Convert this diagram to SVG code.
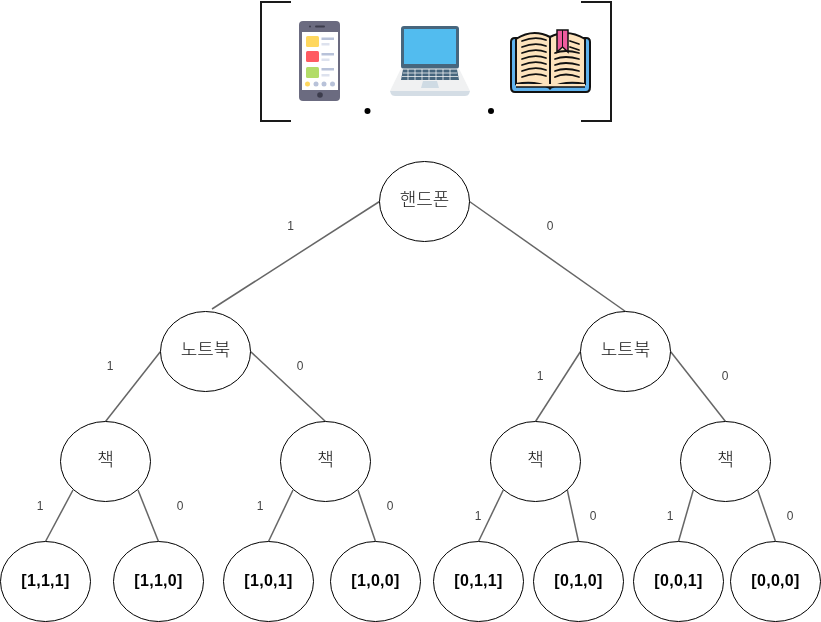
<svg xmlns="http://www.w3.org/2000/svg" width="821" height="622" viewBox="0 0 821 622">
<defs><filter id="g" x="-30%" y="-30%" width="160%" height="160%" color-interpolation-filters="sRGB"><feOffset dx="0" dy="0"/></filter></defs>
<style>
.n{fill:#fff;stroke:#000;stroke-width:1}
text{text-anchor:middle;filter:url(#g)}
.t{font-family:"Noto Sans CJK KR","Liberation Sans",sans-serif;font-size:18px;font-weight:300;fill:#111}
.b{font-family:"Liberation Sans",Arial,sans-serif;font-size:16px;font-weight:bold;letter-spacing:.3px;fill:#000}
.l{font-family:"Liberation Sans",Arial,sans-serif;font-size:12px;fill:#444}
.c line{stroke:#666;stroke-width:1.5}
.br{fill:none;stroke:#1a1a1a;stroke-width:2}
.pg{stroke:#111;stroke-width:1.8;fill:none;stroke-linecap:round}
</style>
<rect width="821" height="622" fill="#fff"/>
<g id="icons">
<path class="br" d="M291 2H261V121H291"/>
<path class="br" d="M581 2H611V121H581"/>
<circle cx="367.500" cy="111" r="3" fill="#000"/>
<circle cx="491" cy="111" r="3" fill="#000"/>
<g id="phone">
<rect x="299" y="21" width="41" height="80" rx="4" fill="#6b6b80"/>
<rect x="302" y="32" width="36" height="58" fill="#fff"/>
<rect x="306" y="36" width="13" height="11" rx="1.500" fill="#ffd75e"/>
<rect x="306" y="51" width="13" height="11" rx="1.500" fill="#ff5b62"/>
<rect x="306" y="67" width="13" height="11" rx="1.500" fill="#b2dc68"/>
<rect x="321.500" y="37.500" width="12.500" height="2.500" fill="#b8c2d9"/><rect x="321.500" y="43" width="8" height="2.500" fill="#dde2ee"/>
<rect x="321.500" y="53" width="12.500" height="2.500" fill="#b8c2d9"/><rect x="321.500" y="58.500" width="8" height="2.500" fill="#dde2ee"/>
<rect x="321.500" y="68" width="12.500" height="2.500" fill="#b8c2d9"/><rect x="321.500" y="74" width="8" height="2.500" fill="#dde2ee"/>
<circle cx="307.500" cy="84" r="2.500" fill="#ffd75e"/><circle cx="316" cy="84" r="2.500" fill="#b8c2d9"/><circle cx="324" cy="84" r="2.500" fill="#b8c2d9"/><circle cx="332.500" cy="84" r="2.500" fill="#b8c2d9"/>
<circle cx="320" cy="95" r="2.800" fill="#3c3c4c"/>
<circle cx="310" cy="26.500" r="1" fill="#3c3c4c"/><rect x="315" y="25.500" width="10" height="2" rx="1" fill="#3c3c4c"/>
</g>
<g id="laptop">
<rect x="401" y="26" width="58" height="43" rx="3" fill="#47667d"/>
<rect x="404" y="29" width="52" height="35" fill="#52bcef"/>
<path d="M401 68.500H459L470 91H390Z" fill="#f0f1f2"/>
<path d="M403 69.500H457L459 80H401Z" fill="#47667d"/>
<path d="M403 73H457M402 76.500H458M408 69V80M415 69V80M422 69V80M429 69V80M436 69V80M443 69V80M450 69V80" stroke="#f0f1f2" stroke-width=".8" fill="none"/>
<path d="M423 81H437L439 88H421Z" fill="#cfdbe4"/>
<path d="M390 91H470L469 94Q468 96 465 96H395Q392 96 391 94Z" fill="#d4dde5"/>
</g>
<g id="book">
<path d="M515 38H586Q590 38 590 42V87Q590 92 586 92H515Q511 92 511 87V42Q511 38 515 38Z" fill="#5fb3ee" stroke="#111" stroke-width="2"/>
<path d="M516 84V39Q533 28 550 37V88Q535 80 516 84Z" fill="#fde3bd" stroke="#111" stroke-width="2"/>
<path d="M550 37Q567 28 585 39V84Q565 80 550 88Z" fill="#fde3bd" stroke="#111" stroke-width="2"/>
<path d="M516 84H585V87H516Z" fill="#fde3bd"/>
<path d="M516 87H585" stroke="#111" stroke-width="1.500"/>
<path class="pg" d="M522 41Q535 36 546 40M522 47Q535 42 546 46M522 53Q535 48 546 52M522 59Q535 54 546 58M522 65Q535 60 546 64M522 71Q535 66 546 70M522 77Q535 72 546 76"/>
<path class="pg" d="M555 53Q565 49 579 53M555 59Q565 55 579 59M555 65Q565 61 579 65M555 71Q565 67 579 71M555 77Q565 72 579 77M570 41L579 44M570 47L579 50"/>
<path d="M557 30H568V52L562.500 47L557 52Z" fill="#ee5c9e" stroke="#111" stroke-width="1.500"/>
<path d="M562.500 30V47" stroke="#111" stroke-width="1"/>
</g>
</g>
<g id="connectors" class="c">
<line x1="379.500" y1="201.500" x2="212" y2="309"/>
<line x1="469.500" y1="201.500" x2="625.500" y2="311.500"/>
<line x1="160.500" y1="351.500" x2="105.500" y2="421.500"/>
<line x1="250.500" y1="351.500" x2="325.500" y2="421.500"/>
<line x1="580.500" y1="351.500" x2="535.500" y2="421.500"/>
<line x1="670.500" y1="351.500" x2="725.500" y2="421.500"/>
<line x1="73" y1="490" x2="45.500" y2="541.500"/>
<line x1="138" y1="490" x2="158.500" y2="541.500"/>
<line x1="293" y1="490" x2="268.500" y2="541.500"/>
<line x1="358" y1="490" x2="375.500" y2="541.500"/>
<line x1="503.300" y1="490" x2="478.500" y2="541.500"/>
<line x1="567.300" y1="490" x2="578.500" y2="541.500"/>
<line x1="693.300" y1="490" x2="678.500" y2="541.500"/>
<line x1="757.700" y1="490" x2="775.500" y2="541.500"/>
</g>
<g id="edge-labels">
<text class="l" x="290.500" y="230">1</text><text class="l" x="550" y="230">0</text>
<text class="l" x="110" y="370">1</text><text class="l" x="300" y="370">0</text>
<text class="l" x="540" y="380">1</text><text class="l" x="725" y="380">0</text>
<text class="l" x="40" y="510">1</text><text class="l" x="180" y="510">0</text>
<text class="l" x="260" y="510">1</text><text class="l" x="390" y="510">0</text>
<text class="l" x="478" y="520">1</text><text class="l" x="593" y="520">0</text>
<text class="l" x="670" y="520">1</text><text class="l" x="790" y="520">0</text>
</g>
<g id="n-root"><ellipse class="n" cx="424.500" cy="201.500" rx="45" ry="40"/><text class="t" x="424.500" y="206">핸드폰</text></g>
<g id="n-l"><ellipse class="n" cx="205.500" cy="351.500" rx="45" ry="40"/><text class="t" x="205.500" y="356">노트북</text></g>
<g id="n-r"><ellipse class="n" cx="625.500" cy="351.500" rx="45" ry="40"/><text class="t" x="625.500" y="356">노트북</text></g>
<g id="n-ll"><ellipse class="n" cx="105.500" cy="461.500" rx="45" ry="40"/><text class="t" x="105.500" y="466">책</text></g>
<g id="n-lr"><ellipse class="n" cx="325.500" cy="461.500" rx="45" ry="40"/><text class="t" x="325.500" y="466">책</text></g>
<g id="n-rl"><ellipse class="n" cx="535.500" cy="461.500" rx="45" ry="40"/><text class="t" x="535.500" y="466">책</text></g>
<g id="n-rr"><ellipse class="n" cx="725.500" cy="461.500" rx="45" ry="40"/><text class="t" x="725.500" y="466">책</text></g>
<g id="leaf1"><ellipse class="n" cx="45.500" cy="581.500" rx="45" ry="40"/><text class="b" x="45.500" y="586">[1,1,1]</text></g>
<g id="leaf2"><ellipse class="n" cx="158.500" cy="581.500" rx="45" ry="40"/><text class="b" x="158.500" y="586">[1,1,0]</text></g>
<g id="leaf3"><ellipse class="n" cx="268.500" cy="581.500" rx="45" ry="40"/><text class="b" x="268.500" y="586">[1,0,1]</text></g>
<g id="leaf4"><ellipse class="n" cx="375.500" cy="581.500" rx="45" ry="40"/><text class="b" x="375.500" y="586">[1,0,0]</text></g>
<g id="leaf5"><ellipse class="n" cx="478.500" cy="581.500" rx="45" ry="40"/><text class="b" x="478.500" y="586">[0,1,1]</text></g>
<g id="leaf6"><ellipse class="n" cx="578.500" cy="581.500" rx="45" ry="40"/><text class="b" x="578.500" y="586">[0,1,0]</text></g>
<g id="leaf7"><ellipse class="n" cx="678.500" cy="581.500" rx="45" ry="40"/><text class="b" x="678.500" y="586">[0,0,1]</text></g>
<g id="leaf8"><ellipse class="n" cx="775.500" cy="581.500" rx="45" ry="40"/><text class="b" x="775.500" y="586">[0,0,0]</text></g>
</svg>
